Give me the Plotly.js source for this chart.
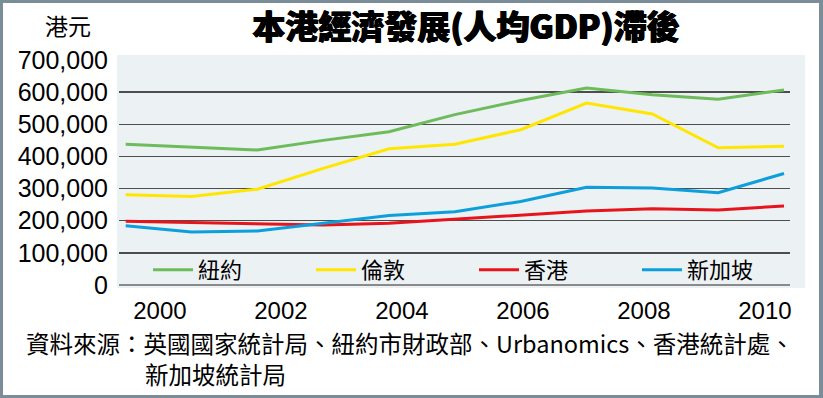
<!DOCTYPE html>
<html>
<head>
<meta charset="utf-8">
<script src="https://cdn.plot.ly/plotly-3.0.1.min.js"></script>
<style>
html,body{margin:0;padding:0;background:#fff;}
#wrap{position:relative;width:823px;height:398px;}
#chart{width:823px;height:398px;}
#frame{position:absolute;left:0;top:0;width:823px;height:398px;box-sizing:border-box;border:3px solid #7b8d99;border-right-width:4px;pointer-events:none;}
</style>
</head>
<body>
<div id="wrap"><div id="chart"></div><div id="frame"></div></div>
<script>
// ---- data (HK$ per capita GDP) ----
const years = [2000,2001,2002,2003,2004,2005,2006,2007,2008,2009,2010];
const newYork   = [438000,430000,420000,450000,477000,530000,574000,613000,592000,578000,607000];
const london    = [281000,275000,298000,363000,424000,438000,483000,566000,532000,427000,432000];
const hongKong  = [198000,194000,190000,187000,192000,205000,218000,230000,237000,233000,246000];
const singapore = [184000,165000,168000,192000,216000,228000,260000,304000,302000,287000,347000];
const seriesNames = ['紐約','倫敦','香港','新加坡'];
const tickLabels = ['2000','2002','2004','2006','2008','2010'];
const yTicks = [0,100000,200000,300000,400000,500000,600000,700000];

const colors = ['#6dbb5b','#ffe600','#e8141c','#0c9fdc'];
const seriesData = [newYork, london, hongKong, singapore];

// layout geometry (pixels)
const W = 823, H = 398;
const L = 119, R = 790, T = 60, B = 285;
const px2x = p => (p - L) / (R - L);
const px2y = p => (B - p) / (B - T);

const traces = seriesData.map((vals, i) => ({
  type: 'scatter', mode: 'lines', x: years, y: vals, name: seriesNames[i],
  line: {color: colors[i], width: 3}
}));

// tick label positions (labels are spread evenly, offset from data points)
const labStart = 2000.52, labStep = 1.838;
const tickVals = tickLabels.map((t, i) => labStart + i * labStep);

const cjk = '"Noto Sans CJK TC", "Noto Sans CJK SC", sans-serif';
const num = '"Liberation Sans", Arial, sans-serif';

const layout = {
  width: W, height: H,
  margin: {l: L, r: W - R, t: T, b: H - B, pad: 0},
  paper_bgcolor: '#ffffff',
  plot_bgcolor: 'rgba(0,0,0,0)',
  showlegend: true,
  title: {
    text: '本港經濟發展(人均GDP)滯後',
    font: {family: cjk, size: 33, color: '#000', weight: 900,
           shadow: '0.7px 0 0 #000, -0.7px 0 0 #000, 0 0.5px 0 #000'},
    x: 466 / W, xref: 'container', xanchor: 'center',
    y: 1 - 27 / H, yref: 'container', yanchor: 'middle'
  },
  xaxis: {
    range: [1999.898, 2010.091],
    tickvals: tickVals, ticktext: tickLabels,
    showgrid: false, zeroline: false, showline: false, ticks: '',
    tickfont: {family: num, size: 24, color: '#000'},
    ticklabelstandoff: 9, fixedrange: true
  },
  yaxis: {
    range: [0, 700000],
    tickvals: yTicks, tickformat: ',d',
    showgrid: true, gridcolor: '#4d4d4d', gridwidth: 1.5,
    zeroline: true, zerolinecolor: '#8a8a8a', zerolinewidth: 2,
    showline: false, ticks: '',
    tickfont: {family: num, size: 25, color: '#000'},
    ticklabelstandoff: 10, fixedrange: true
  },
  legend: {
    orientation: 'h', x: px2x(148), xanchor: 'left', y: px2y(270), yanchor: 'middle',
    bgcolor: 'rgba(0,0,0,0)', entrywidth: 108, entrywidthmode: 'pixels',
    font: {family: cjk, size: 22, color: '#000'}, itemwidth: 40
  },
  shapes: [{
    type: 'rect', xref: 'paper', yref: 'paper', layer: 'below',
    x0: px2x(117), x1: px2x(805), y0: px2y(288), y1: px2y(55),
    fillcolor: '#ecf1f4', line: {width: 0}
  }],
  annotations: [
    {text: '港元', xref: 'paper', yref: 'paper', x: px2x(68), y: px2y(25),
     xanchor: 'center', yanchor: 'middle', showarrow: false,
     font: {family: cjk, size: 23, color: '#000'}},
    {text: '資料來源：英國國家統計局、紐約市財政部、Urbanomics、香港統計處、',
     xref: 'paper', yref: 'paper', x: px2x(24), y: px2y(343),
     xanchor: 'left', yanchor: 'middle', showarrow: false,
     font: {family: cjk, size: 23.5, color: '#000'}},
    {text: '新加坡統計局', xref: 'paper', yref: 'paper', x: px2x(143), y: px2y(374),
     xanchor: 'left', yanchor: 'middle', showarrow: false,
     font: {family: cjk, size: 23.5, color: '#000'}}
  ]
};

Plotly.newPlot('chart', traces, layout, {displayModeBar: false, staticPlot: true});
</script>
</body>
</html>
